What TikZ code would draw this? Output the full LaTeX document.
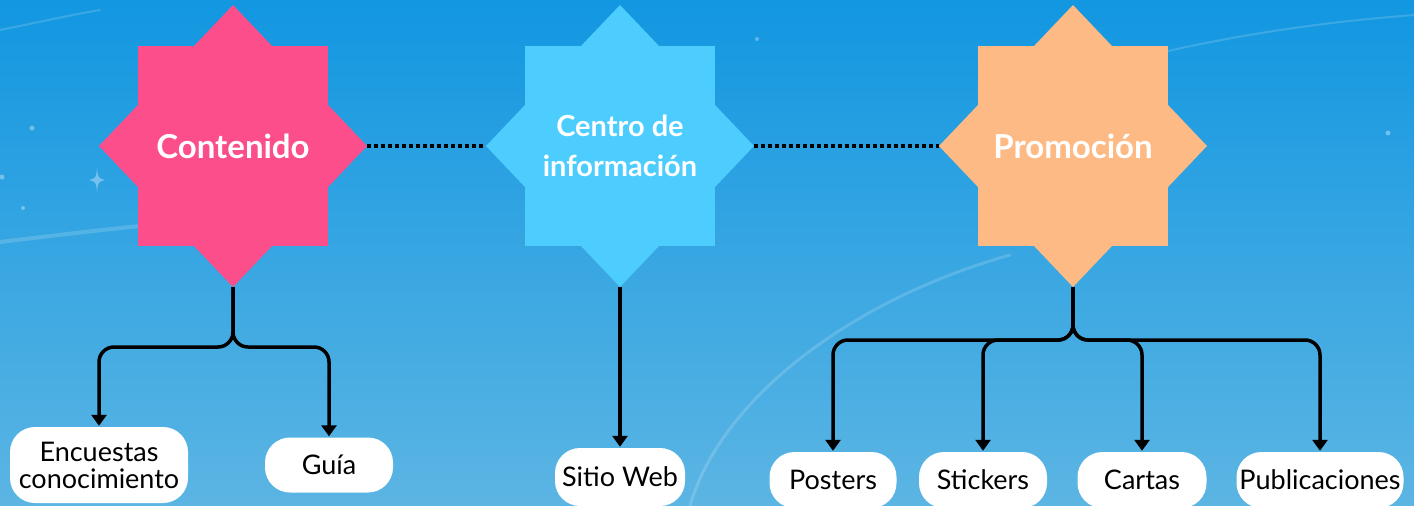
\documentclass[tikz,border=0pt]{standalone}
\usepackage{fontspec}
\setmainfont{Lato}
\usetikzlibrary{arrows.meta,calc}
\definecolor{starpink}{HTML}{FC4E8A}
\definecolor{starblue}{HTML}{4CCDFE}
\definecolor{starpeach}{HTML}{FDBA85}
\definecolor{bgtop}{HTML}{1297E1}
\definecolor{bgbot}{HTML}{5CB5E3}
\newcommand\octostar[5]{%
  \begin{scope}[shift={(#2,#3)}]
    \fill[#4] (-95,-100) rectangle (95,100);
    \fill[#4] (0,-141) -- (134,0) -- (0,141) -- (-134,0) -- cycle;
    \coordinate (#1t) at (0,-141);
    \coordinate (#1b) at (0,141);
    \coordinate (#1l) at (-134,0);
    \coordinate (#1r) at (134,0);
  \end{scope}
  \node[starlabel] (#1) at (#2,#3) {#5};
}
\begin{document}
\begin{tikzpicture}[x=1pt,y=-1pt,
  conn/.style={line width=3.5pt, rounded corners=15pt, -{Triangle[width=15pt,length=11pt]}},
  dotline/.style={line width=3.5pt, dash pattern=on 3.5pt off 3.5pt},
  leaf/.style={fill=white, rounded corners=25pt, font=\fontsize{27}{27}\selectfont, text=black, inner sep=0pt, align=center},
  starlabel/.style={text=white, font=\bfseries\fontsize{33}{40}\selectfont, align=center},
  deco/.style={white, opacity=0.16, line cap=round}
]
\useasboundingbox (0,0) rectangle (1414,506);
\shade[top color=bgtop, bottom color=bgbot] (0,0) rectangle (1414,506);
% faint background decoration
\draw[deco, line width=4pt] (0,242) .. controls (50,236) and (100,230) .. (140,226);
\draw[deco, line width=3pt] (690,506) .. controls (720,400) and (850,300) .. (1010,255);
\draw[deco, line width=2pt] (1130,60) .. controls (1250,30) and (1350,20) .. (1414,15);
\draw[deco, line width=2pt] (0,30) .. controls (40,22) and (70,15) .. (100,10);
\fill[white, opacity=0.35] (97,168) .. controls (98,178) .. (105,180) .. controls (98,182) .. (97,192) .. controls (96,182) .. (89,180) .. controls (96,178) .. cycle;
\fill[white, opacity=0.35] (32,128) circle (2.5);
\fill[white, opacity=0.35] (2,177) circle (2.5);
\fill[white, opacity=0.35] (23,208) circle (2);
\fill[white, opacity=0.35] (1388,133) circle (2.5);
\fill[white, opacity=0.3] (757,39) circle (2);
% stars
\octostar{s1}{233}{146}{starpink}{Contenido}
\octostar{s2}{620}{146}{starblue}{\fontsize{29}{40}\selectfont Centro de\\\fontsize{29}{40}\selectfont información}
\octostar{s3}{1073}{146}{starpeach}{Promoción}
% leaves
\node[leaf, minimum width=178, minimum height=76] (e1) at (99,465) {Encuestas\\conocimiento};
\node[leaf, minimum width=128, minimum height=55] (e2) at (329,465) {Guía};
\node[leaf, minimum width=130, minimum height=58] (w1) at (620,477) {Sitio Web};
\node[leaf, minimum width=127, minimum height=56] (p1) at (833,480) {Posters};
\node[leaf, minimum width=128, minimum height=56] (p2) at (983,480) {Stickers};
\node[leaf, minimum width=129, minimum height=56] (p3) at (1142,480) {Cartas};
\node[leaf, minimum width=167, minimum height=56] (p4) at (1320,480) {Publicaciones};
% junctions
\coordinate (j1) at (233,347);
\coordinate (j3) at (1073,340);
% dotted links
\draw[dotline] (s1r) -- (s2l);
\draw[dotline] (s2r) -- (s3l);
% trees
\draw[conn] (s1b) -- (j1) -- (j1 -| e1.north) -- ([yshift=1pt]e1.north);
\draw[conn] (s1b) -- (j1) -- (j1 -| e2.north) -- ([yshift=1pt]e2.north);
\draw[conn, rounded corners=0pt] (s2b) -- ([yshift=1pt]w1.north);
\draw[conn] (s3b) -- (j3) -- (j3 -| p1.north) -- ([yshift=1pt]p1.north);
\draw[conn] (s3b) -- (j3) -- (j3 -| p2.north) -- ([yshift=1pt]p2.north);
\draw[conn] (s3b) -- (j3) -- (j3 -| p3.north) -- ([yshift=1pt]p3.north);
\draw[conn] (s3b) -- (j3) -- (j3 -| p4.north) -- ([yshift=1pt]p4.north);
\end{tikzpicture}
\end{document}
